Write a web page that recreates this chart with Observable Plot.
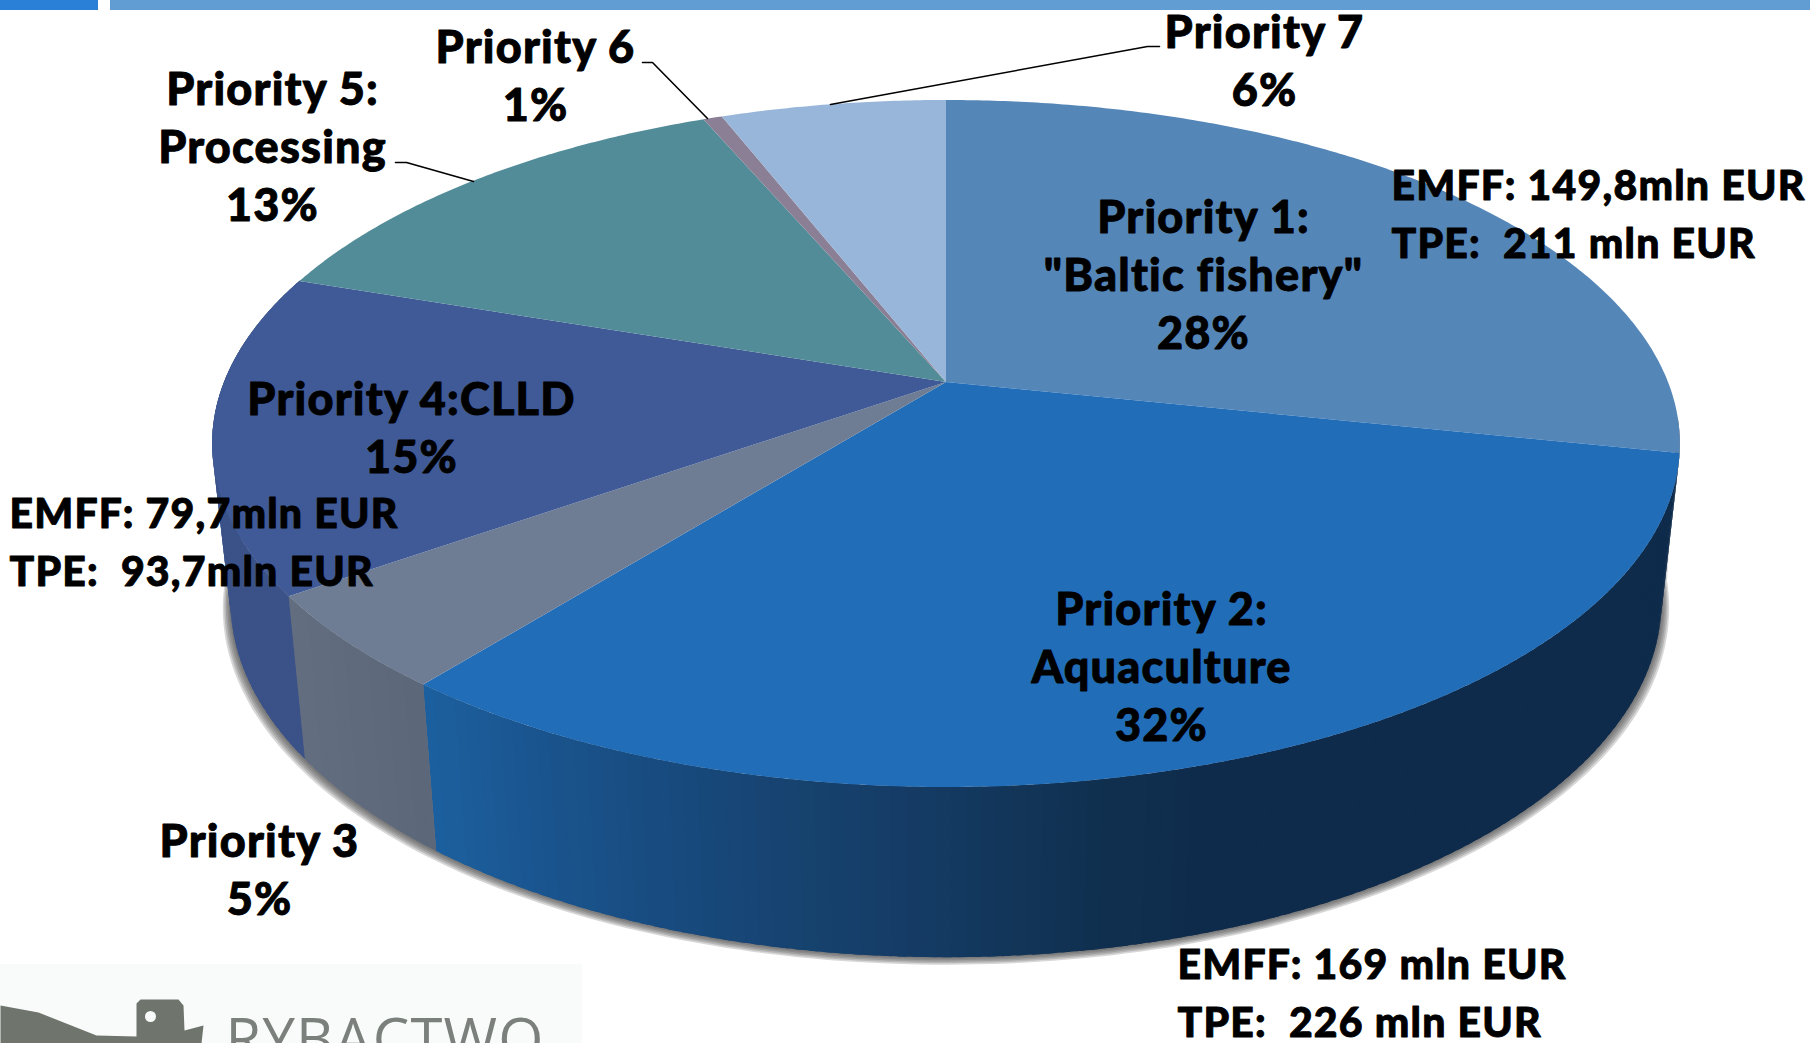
<!DOCTYPE html>
<html>
<head>
<meta charset="utf-8">
<script src="https://cdn.jsdelivr.net/npm/d3@7"></script>
<script src="https://cdn.jsdelivr.net/npm/@observablehq/plot@0.6"></script>
<style>
html,body{margin:0;padding:0;background:#fff;overflow:hidden}
</style>
</head>
<body>
<div id="chart"></div>
<script>
// ---- chart values (angles of the slices; labels round them)
const priorities = ["Priority 1", "Priority 2", "Priority 3", "Priority 4", "Priority 5", "Priority 6", "Priority 7"];
const shares = [28.3, 32.4, 4.5, 15.0, 13.4, 0.5, 5.9];
const sliceNames = [
  'Priority 1:\n"Baltic fishery"',
  "Priority 2:\nAquaculture",
  "Priority 3",
  "Priority 4:CLLD",
  "Priority 5:\nProcessing",
  "Priority 6",
  "Priority 7"
];
const fundLabels = [
  "EMFF: 149,8mln EUR\nTPE:  211 mln EUR",
  "EMFF: 169 mln EUR\nTPE:  226 mln EUR",
  "EMFF: 79,7mln EUR\nTPE:  93,7mln EUR"
];
const logoName = "RYBACTWO";

// ---- styling and layout
const topColors = ["#5586b8", "#226db8", "#6e7d94", "#3f5a96", "#518c98", "#8a7f94", "#98b6da"];
const wallColors = {
  1: d3.scaleLinear().domain([425, 600, 800, 905, 1100, 1200]).range(["#1c5f9e", "#194f86", "#16426f", "#153c66", "#10304f", "#0f2b4b"]).clamp(true),
  2: d3.scaleLinear().domain([300, 430]).range(["#626d80", "#5b6679"]).clamp(true),
  3: () => "#3a5288"
};
const labelX = [1203, 1161, 259, 411, 272, 535, 1264];
const labelY = [272, 664, 867, 425, 144, 73, 58];
const fundX = [1391, 1177, 9];
const fundY = [210, 989, 538];
const leaders = [
  [[830, 104], [1147, 46], [1159, 46]],
  [[642, 62], [652, 62], [707, 118]],
  [[395, 162], [406, 162], [473, 181]]
];
const shipOutline = [[0, 1005], [38, 1012], [96, 1035], [136, 1036], [136, 1003], [140, 999], [178, 999], [183, 1005], [184, 1030], [203, 1025], [201, 1043], [0, 1043]];
const shadowSteps = [1.5, 3, 4.5, 6, 7.5];

// Perspective projection of the pie disc: top rim and lower rim.
const rimTop = {cx: 946, cy: 382, a: 722, b: 332.5, k: 0.179};
const rimLow = {cx: 946, cy: 537, a: 704, b: 345, k: 0.179};
const project = (rim, deg) => {
  const t = deg * Math.PI / 180, u = Math.sin(t), v = Math.cos(t), d = 1 + rim.k * v;
  return [rim.cx + rim.a * u / d, rim.cy - rim.b * v / d];
};

// ---- geometry built from the values
const total = d3.sum(shares);
const cumulative = d3.cumsum(shares);
const startAngle = i => (i ? cumulative[i - 1] : 0) / total * 360;
const endAngle = i => cumulative[i] / total * 360;

const faces = shares.flatMap((_, i) => {
  const a0 = startAngle(i), a1 = endAngle(i);
  const n = Math.max(2, Math.ceil(a1 - a0) * 2);
  return d3.range(n + 1).map(j => {
    const [x, y] = project(rimTop, a0 + (a1 - a0) * j / n);
    return {slice: priorities[i], x, y, fill: topColors[i]};
  });
});

// Wall strips are painted in order and each one overlaps the next, so no seams show.
const walls = [];
[1, 2, 3].forEach(i => {
  const a0 = startAngle(i), a1 = endAngle(i);
  const n = Math.ceil(a1 - a0);
  d3.range(n).forEach(j => {
    const p0 = a0 + (a1 - a0) * j / n, p1 = a0 + (a1 - a0) * (j + 1) / n;
    const pEnd = Math.min(a1, p1 + 0.6);
    const color = wallColors[i](project(rimTop, (p0 + p1) / 2)[0]);
    [p0, (p0 + pEnd) / 2, pEnd].forEach(p => {
      const [x1, y1] = project(rimTop, p), [x2, y2] = project(rimLow, p);
      walls.push({strip: `${i}-${j}`, x1, y1, x2, y2, color});
    });
  });
});

// A soft edge below the walls: rims that grow a little, each one faint.
const shadow = shadowSteps.flatMap(step => {
  const rim = {...rimLow, cy: rimLow.cy + step, a: rimLow.a + step};
  return d3.range(startAngle(1) - 6, endAngle(3) + 1, 1).map(p => {
    const [x1, y1] = project(rimTop, p), [x2, y2] = project(rim, p);
    return {step, x1, y1, x2, y2};
  });
}).reverse();

const leaderPoints = leaders.flatMap((pts, id) => pts.map(([x, y]) => ({id, x, y})));
const ship = shipOutline.map(([x, y]) => ({x, y}));
const labels = sliceNames.map((name, i) => ({text: `${name}\n${Math.round(shares[i])}%`, x: labelX[i], y: labelY[i]}));
const funds = fundLabels.map((text, i) => ({text, x: fundX[i], y: fundY[i]}));

const textStyle = {fontFamily: "Lato", fontWeight: 900, fontSize: 45, lineHeight: 1.29, fill: "#000", stroke: "#000", strokeWidth: 0.9};

const chart = Plot.plot({
  width: 1810, height: 1043,
  marginTop: 0, marginRight: 0, marginBottom: 0, marginLeft: 0,
  x: {domain: [0, 1810], range: [0, 1810], axis: null},
  y: {domain: [0, 1043], range: [0, 1043], axis: null},
  color: {type: "identity"},
  style: {background: "#fff", overflow: "hidden", letterSpacing: "1.2px"},
  marks: [
    // header bars
    Plot.rect([{x1: 0, x2: 98, y1: 0, y2: 10, c: "#2a7fd6"}, {x1: 110, x2: 1810, y1: 0, y2: 10, c: "#619dd2"}],
      {x1: "x1", x2: "x2", y1: "y1", y2: "y2", fill: "c"}),
    // logo
    Plot.rect([{x1: 0, x2: 582, y1: 964, y2: 1043}], {x1: "x1", x2: "x2", y1: "y1", y2: "y2", fill: "#f8fbfa"}),
    Plot.line(ship, {x: "x", y: "y", fill: "#6f756c", stroke: "none"}),
    Plot.dot([{x: 150, y: 1016}], {x: "x", y: "y", r: 5.5, fill: "#f8fbfa"}),
    Plot.text([logoName], {x: 225, y: 1059, text: d => d, textAnchor: "start", lineAnchor: "bottom", fontFamily: "Open Sans", fontSize: 58, fill: "#7b807c"}),
    // walls
    Plot.area(shadow, {x1: "x1", y1: "y1", x2: "x2", y2: "y2", z: "step", fill: "#4a4a4a", fillOpacity: 0.22}),
    Plot.area(walls, {x1: "x1", y1: "y1", x2: "x2", y2: "y2", z: "strip", fill: "color"}),
    // top faces
    Plot.area(faces, {x1: () => rimTop.cx, y1: () => rimTop.cy, x2: "x", y2: "y", z: "slice", fill: "fill"}),
    // leaders
    Plot.line(leaderPoints, {x: "x", y: "y", z: "id", stroke: "#000", strokeWidth: 1.6}),
    // text
    Plot.text(labels, {x: "x", y: "y", text: "text", textAnchor: "middle", ...textStyle}),
    Plot.text(funds, {x: "x", y: "y", text: "text", textAnchor: "start", ...textStyle, fontSize: 41, lineHeight: 1.41})
  ]
});
document.getElementById("chart").append(chart);
</script>
</body>
</html>
